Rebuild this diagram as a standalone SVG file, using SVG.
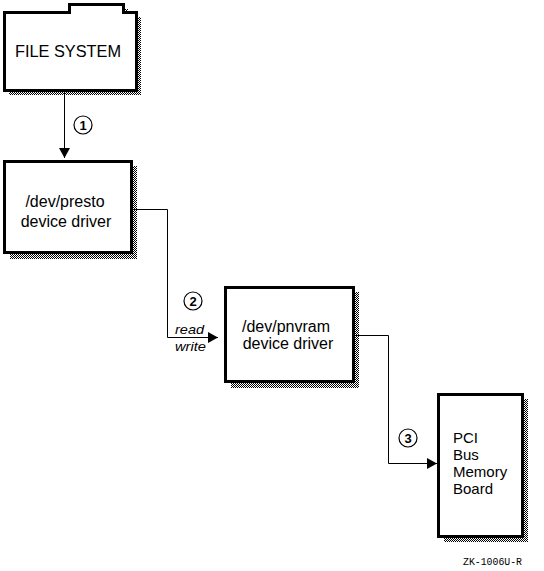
<svg xmlns="http://www.w3.org/2000/svg" width="544" height="571" viewBox="0 0 544 571">
  <defs>
    <pattern id="dots" patternUnits="userSpaceOnUse" width="2" height="2">
      <rect x="0" y="0" width="1" height="1" fill="#000"/>
      <rect x="1" y="1" width="1" height="1" fill="#000"/>
    </pattern>
    <marker id="arrow" markerWidth="11" markerHeight="11" refX="10" refY="5.5" orient="auto" markerUnits="userSpaceOnUse">
      <path d="M0,0 L10,5.5 L0,11 Z" fill="#000"/>
    </marker>
  </defs>
  <style>
    .box { fill: #fff; stroke: #000; stroke-width: 3; }
    .shadow { fill: url(#dots); stroke: none; }
    .lbl { font-family: "Liberation Sans", Arial, sans-serif; font-size: 16px; fill: #000; }
    .num { font-family: "Liberation Sans", Arial, sans-serif; font-size: 13px; font-weight: bold; fill: #000; text-anchor: middle; }
    .ring { fill: #fff; stroke: #000; stroke-width: 1.2; }
    .conn { fill: none; stroke: #000; stroke-width: 1; }
    .it { font-family: "Liberation Sans", Arial, sans-serif; font-size: 13px; font-style: italic; fill: #000; }
  </style>
  <rect width="544" height="571" fill="#fff"/>

  <g id="connectors">
    <path class="conn" d="M64.5,91 V158" marker-end="url(#arrow)"/>
    <path class="conn" d="M132,209.5 H167.5 V337.5 H218" marker-end="url(#arrow)"/>
    <path class="conn" d="M355,335.5 H388.5 V463.5 H437" marker-end="url(#arrow)"/>
  </g>

  <g id="file-system">
    <path class="shadow" d="M9,94 V17 H74 V9 H128 V17 H141 V95 H9 Z"/>
    <path class="box" d="M4.5,90.5 V12.5 H69.5 V4.5 H123.5 V12.5 H136.5 V90.5 Z"/>
    <text class="lbl" x="68" y="57" text-anchor="middle" textLength="106" lengthAdjust="spacingAndGlyphs">FILE SYSTEM</text>
  </g>

  <g id="label1">
    <circle class="ring" cx="83" cy="125" r="9"/>
    <text class="num" x="83" y="130">1</text>
  </g>

  <g id="presto">
    <rect class="shadow" x="10" y="166" width="127" height="93"/>
    <rect class="box" x="4.5" y="161.5" width="127" height="91"/>
    <text class="lbl" x="65" y="207" text-anchor="middle">/dev/presto</text>
    <text class="lbl" x="66" y="227" text-anchor="middle">device driver</text>
  </g>

  <g id="label2">
    <circle class="ring" cx="193" cy="301" r="9"/>
    <text class="num" x="193" y="306">2</text>
    <text class="it" x="175" y="334" textLength="29" lengthAdjust="spacingAndGlyphs">read</text>
    <text class="it" x="175" y="351" textLength="31" lengthAdjust="spacingAndGlyphs">write</text>
  </g>

  <g id="pnvram">
    <rect class="shadow" x="231" y="292" width="128" height="96"/>
    <rect class="box" x="225.5" y="287.5" width="128" height="94"/>
    <text class="lbl" x="286" y="332" text-anchor="middle">/dev/pnvram</text>
    <text class="lbl" x="288" y="349" text-anchor="middle">device driver</text>
  </g>

  <g id="label3">
    <circle class="ring" cx="408" cy="438" r="9"/>
    <text class="num" x="408" y="443">3</text>
  </g>

  <g id="board">
    <rect class="shadow" x="444" y="399" width="84" height="143"/>
    <rect class="box" x="438.5" y="394.5" width="84" height="142"/>
    <text class="lbl" style="font-size:15px" x="453" y="443">PCI</text>
    <text class="lbl" style="font-size:15px" x="453" y="460">Bus</text>
    <text class="lbl" style="font-size:15px" x="453" y="477">Memory</text>
    <text class="lbl" style="font-size:15px" x="453" y="494">Board</text>
  </g>

  <text x="463" y="565" font-family="'Liberation Mono', 'Courier New', monospace" font-size="10" textLength="59" lengthAdjust="spacingAndGlyphs" fill="#000">ZK-1006U-R</text>
</svg>
